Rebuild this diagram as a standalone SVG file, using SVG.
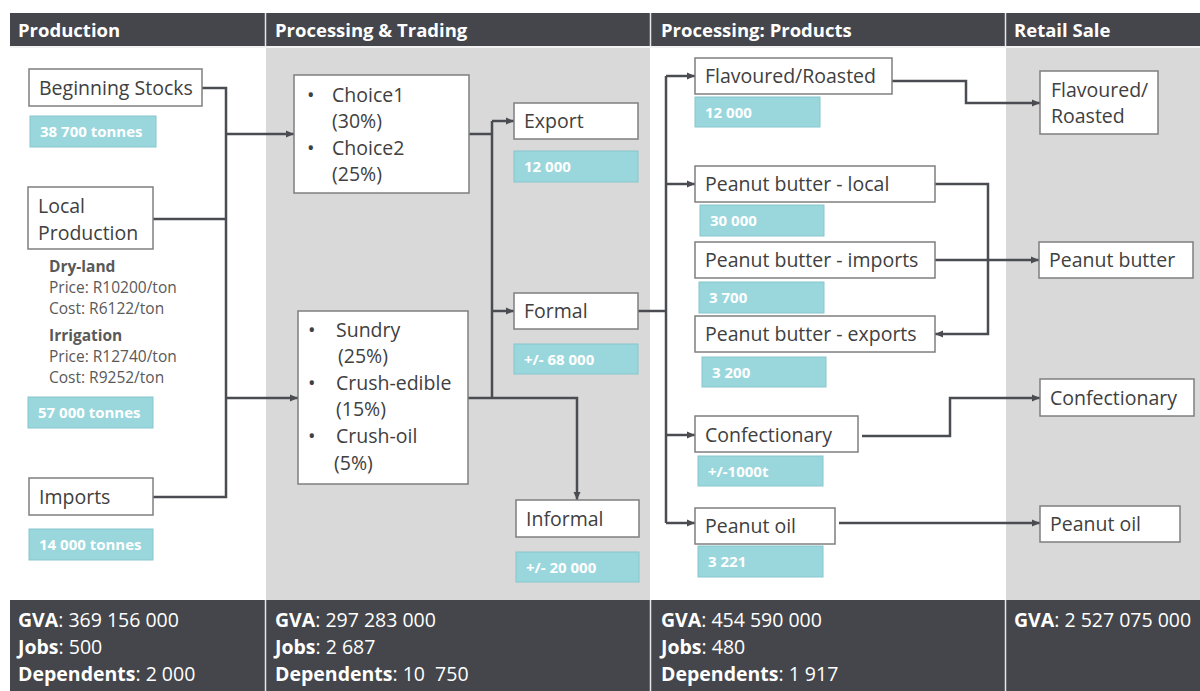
<svg xmlns="http://www.w3.org/2000/svg" width="1200" height="691" viewBox="0 0 1200 691">
<defs>
<marker id="arr" markerUnits="userSpaceOnUse" markerWidth="9" markerHeight="8" refX="8" refY="4" orient="auto">
<path d="M0,0.5 L8,4 L0,7.5 z" fill="#4a4c52"/>
</marker>
<style>
.hdr{fill:#44464c}
.hdrt{font-family:"Open Sans",sans-serif;font-weight:bold;font-size:18.5px;fill:#ffffff}
.ft{font-family:"Open Sans",sans-serif;font-size:19.5px;fill:#ffffff;white-space:pre}
.ft .b{font-weight:bold}
.box{fill:#ffffff;stroke:#7f7f7f;stroke-width:1.5}
.t{font-family:"Open Sans",sans-serif;font-size:19.5px;fill:#404040}
.bu{font-family:"Open Sans",sans-serif;font-size:20px;fill:#404040}
.teal{fill:#9ad7dd;stroke:#86c6cd;stroke-width:1}
.tt{font-family:"Open Sans",sans-serif;font-weight:bold;font-size:15px;fill:#ffffff}
.sm{font-family:"Open Sans",sans-serif;font-size:15.5px;fill:#595959}
.smb{font-weight:bold}
.c{fill:none;stroke:#4a4c52;stroke-width:2.5}
.ca{fill:none;stroke:#4a4c52;stroke-width:2.5;marker-end:url(#arr)}
.sep{stroke:#e6e6e6;stroke-width:1.5}
</style>
</defs>
<rect x="0" y="0" width="1200" height="691" fill="#ffffff"/>
<rect x="266" y="48" width="384" height="552" fill="#d9d9d9"/>
<rect x="1006" y="48" width="194" height="552" fill="#d9d9d9"/>
<g id="header">
<rect class="hdr" x="10" y="13" width="1190" height="33"/>
<line class="sep" x1="265.5" y1="13" x2="265.5" y2="46"/>
<line class="sep" x1="650.5" y1="13" x2="650.5" y2="46"/>
<line class="sep" x1="1005.5" y1="13" x2="1005.5" y2="46"/>
<line x1="10" y1="47" x2="1200" y2="47" stroke="#eeeeee" stroke-width="1.5"/>
<text class="hdrt" x="18" y="37">Production</text>
<text class="hdrt" x="275" y="37">Processing &amp; Trading</text>
<text class="hdrt" x="661" y="37">Processing: Products</text>
<text class="hdrt" x="1014" y="37">Retail Sale</text>
</g>
<g id="footer">
<rect class="hdr" x="10" y="600" width="1190" height="91"/>
<line class="sep" x1="265.5" y1="600" x2="265.5" y2="691"/>
<line class="sep" x1="650.5" y1="600" x2="650.5" y2="691"/>
<line class="sep" x1="1005.5" y1="600" x2="1005.5" y2="691"/>
<text class="ft" x="18" y="627"><tspan class="b">GVA</tspan>: 369 156 000</text>
<text class="ft" x="18" y="654"><tspan class="b">Jobs</tspan>: 500</text>
<text class="ft" x="18" y="681"><tspan class="b">Dependents</tspan>: 2 000</text>
<text class="ft" x="275" y="627"><tspan class="b">GVA</tspan>: 297 283 000</text>
<text class="ft" x="275" y="654"><tspan class="b">Jobs</tspan>: 2 687</text>
<text class="ft" x="275" y="681" xml:space="preserve"><tspan class="b">Dependents</tspan>: 10  750</text>
<text class="ft" x="661" y="627"><tspan class="b">GVA</tspan>: 454 590 000</text>
<text class="ft" x="661" y="654"><tspan class="b">Jobs</tspan>: 480</text>
<text class="ft" x="661" y="681"><tspan class="b">Dependents</tspan>: 1 917</text>
<text class="ft" x="1014" y="627"><tspan class="b">GVA</tspan>: 2 527 075 000</text>
</g>
<g id="connectors">
<path class="c" d="M202 88 H226 V497 H153"/>
<path class="c" d="M153 219 H226"/>
<path class="ca" d="M226 134 H294"/>
<path class="ca" d="M226 398 H298"/>
<path class="c" d="M469 134 H492"/>
<path class="c" d="M492 121 V398"/>
<path class="ca" d="M492 121 H514"/>
<path class="ca" d="M492 311 H514"/>
<path class="ca" d="M468 398 H577 V500"/>
<path class="c" d="M638 311 H666"/>
<path class="c" d="M666 76 V523"/>
<path class="ca" d="M666 76 H695"/>
<path class="ca" d="M666 184 H695"/>
<path class="ca" d="M666 435 H695"/>
<path class="ca" d="M666 523 H695"/>
<path class="ca" d="M892 81 H966 V103 H1040"/>
<path class="ca" d="M935 184 H988 V334 H935"/>
<path class="ca" d="M935 260 H1039"/>
<path class="ca" d="M862 436 H950 V398 H1040"/>
<path class="ca" d="M839 523 H1040"/>
</g>
<g id="beginning-stocks">
<rect class="box" x="29" y="69" width="173" height="37"/>
<text class="t" x="39" y="95">Beginning Stocks</text>
<rect class="teal" x="30" y="116" width="126" height="31"/>
<text class="tt" x="40" y="137">38 700 tonnes</text>
</g>
<g id="local-production">
<rect class="box" x="28" y="187" width="125" height="62"/>
<text class="t" x="38" y="213">Local</text>
<text class="t" x="38" y="240">Production</text>
<text class="sm" x="49" y="272"><tspan class="smb">Dry-land</tspan></text>
<text class="sm" x="49" y="293">Price: R10200/ton</text>
<text class="sm" x="49" y="314">Cost: R6122/ton</text>
<text class="sm" x="49" y="341"><tspan class="smb">Irrigation</tspan></text>
<text class="sm" x="49" y="362">Price: R12740/ton</text>
<text class="sm" x="49" y="383">Cost: R9252/ton</text>
<rect class="teal" x="28" y="397" width="125" height="31"/>
<text class="tt" x="38" y="418">57 000 tonnes</text>
</g>
<g id="imports">
<rect class="box" x="29" y="478" width="124" height="37"/>
<text class="t" x="39" y="504">Imports</text>
<rect class="teal" x="29" y="529" width="124" height="31"/>
<text class="tt" x="39" y="550">14 000 tonnes</text>
</g>
<g id="choice">
<rect class="box" x="294" y="75" width="175" height="118"/>
<text class="bu" x="307" y="102">•</text>
<text class="t" x="332" y="102">Choice1</text>
<text class="t" x="332" y="128">(30%)</text>
<text class="bu" x="307" y="155">•</text>
<text class="t" x="332" y="155">Choice2</text>
<text class="t" x="332" y="181">(25%)</text>
</g>
<g id="sundry">
<rect class="box" x="298" y="311" width="170" height="173"/>
<text class="bu" x="308" y="337">•</text>
<text class="t" x="336" y="337">Sundry</text>
<text class="t" x="338" y="363">(25%)</text>
<text class="bu" x="308" y="390">•</text>
<text class="t" x="336" y="390">Crush-edible</text>
<text class="t" x="336" y="416">(15%)</text>
<text class="bu" x="308" y="443">•</text>
<text class="t" x="336" y="443">Crush-oil</text>
<text class="t" x="334" y="470">(5%)</text>
</g>
<g id="export">
<rect class="box" x="514" y="103" width="124" height="36"/>
<text class="t" x="524" y="128">Export</text>
<rect class="teal" x="514" y="151" width="124" height="31"/>
<text class="tt" x="524" y="172">12 000</text>
</g>
<g id="formal">
<rect class="box" x="514" y="293" width="124" height="36"/>
<text class="t" x="524" y="318">Formal</text>
<rect class="teal" x="514" y="344" width="124" height="30"/>
<text class="tt" x="524" y="365">+/- 68 000</text>
</g>
<g id="informal">
<rect class="box" x="516" y="500" width="123" height="37"/>
<text class="t" x="526" y="526">Informal</text>
<rect class="teal" x="516" y="552" width="123" height="30"/>
<text class="tt" x="526" y="573">+/- 20 000</text>
</g>
<g id="flavoured">
<rect class="box" x="695" y="58" width="197" height="36"/>
<text class="t" x="705" y="83">Flavoured/Roasted</text>
<rect class="teal" x="695" y="97" width="125" height="30"/>
<text class="tt" x="705" y="118">12 000</text>
</g>
<g id="pb-local">
<rect class="box" x="695" y="166" width="240" height="36"/>
<text class="t" x="705" y="191">Peanut butter - local</text>
<rect class="teal" x="700" y="205" width="124" height="31"/>
<text class="tt" x="710" y="226">30 000</text>
</g>
<g id="pb-imports">
<rect class="box" x="695" y="242" width="240" height="36"/>
<text class="t" x="705" y="267">Peanut butter - imports</text>
<rect class="teal" x="699" y="282" width="125" height="31"/>
<text class="tt" x="709" y="303">3 700</text>
</g>
<g id="pb-exports">
<rect class="box" x="695" y="316" width="240" height="36"/>
<text class="t" x="705" y="341">Peanut butter - exports</text>
<rect class="teal" x="702" y="357" width="124" height="30"/>
<text class="tt" x="712" y="378">3 200</text>
</g>
<g id="confectionary">
<rect class="box" x="695" y="416" width="163" height="36"/>
<text class="t" x="705" y="442">Confectionary</text>
<rect class="teal" x="698" y="456" width="125" height="30"/>
<text class="tt" x="708" y="477">+/-1000t</text>
</g>
<g id="peanut-oil">
<rect class="box" x="695" y="508" width="140" height="36"/>
<text class="t" x="705" y="533">Peanut oil</text>
<rect class="teal" x="698" y="546" width="125" height="31"/>
<text class="tt" x="708" y="567">3 221</text>
</g>
<g id="retail-flavoured">
<rect class="box" x="1040" y="71" width="118" height="63"/>
<text class="t" x="1051" y="97">Flavoured/</text>
<text class="t" x="1051" y="123">Roasted</text>
</g>
<g id="retail-pb">
<rect class="box" x="1039" y="242" width="154" height="36"/>
<text class="t" x="1049" y="267">Peanut butter</text>
</g>
<g id="retail-confectionary">
<rect class="box" x="1040" y="379" width="154" height="37"/>
<text class="t" x="1050" y="405">Confectionary</text>
</g>
<g id="retail-oil">
<rect class="box" x="1040" y="506" width="140" height="36"/>
<text class="t" x="1050" y="531">Peanut oil</text>
</g>
</svg>
